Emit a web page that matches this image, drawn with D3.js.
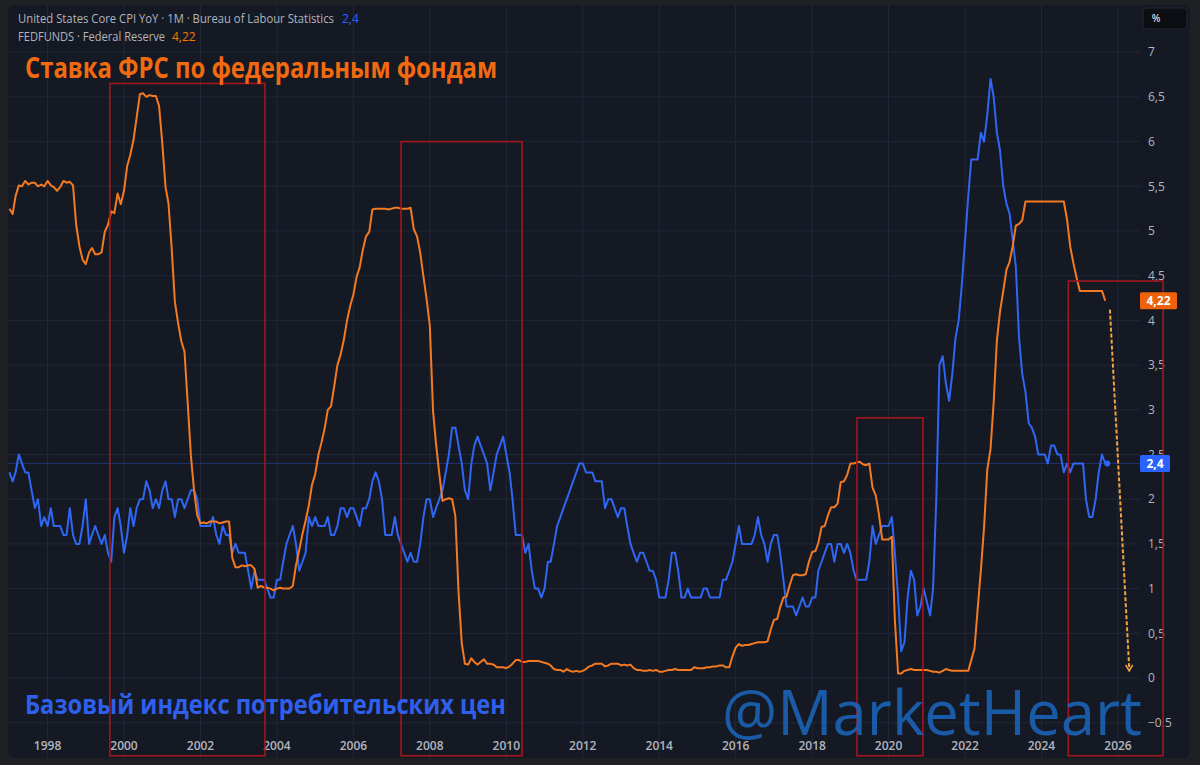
<!DOCTYPE html>
<html><head><meta charset="utf-8">
<script src="https://cdn.jsdelivr.net/npm/d3@7"></script>
<style>html,body{margin:0;padding:0;background:#1f2024;}svg{display:block}</style>
</head><body><svg id="c" width="1200" height="765"></svg>
<script>
// ---------------- DATA ----------------
const startMonth = "1997-01-01";
const fedFunds = [
5.25,5.19,5.39,5.51,5.50,5.56,5.52,5.54,5.54,5.50,5.52,5.50,
5.56,5.51,5.49,5.45,5.49,5.56,5.54,5.55,5.51,5.07,4.83,4.68,
4.63,4.76,4.81,4.74,4.74,4.76,4.99,5.07,5.22,5.20,5.42,5.30,
5.45,5.73,5.85,6.02,6.27,6.53,6.54,6.50,6.52,6.51,6.51,6.40,
5.98,5.49,5.31,4.80,4.21,3.97,3.77,3.65,3.07,2.49,2.09,1.82,
1.73,1.74,1.73,1.75,1.75,1.75,1.73,1.74,1.75,1.75,1.34,1.24,
1.24,1.26,1.25,1.26,1.26,1.22,1.01,1.03,1.01,1.01,1.00,0.98,
1.00,1.01,1.00,1.00,1.00,1.03,1.26,1.43,1.61,1.76,1.93,2.16,
2.28,2.50,2.63,2.79,3.00,3.04,3.26,3.50,3.62,3.78,4.00,4.16,
4.29,4.49,4.59,4.79,4.94,4.99,5.24,5.25,5.25,5.25,5.25,5.24,
5.25,5.26,5.26,5.25,5.25,5.25,5.26,5.02,4.94,4.76,4.49,4.24,
3.94,2.98,2.61,2.28,1.98,2.00,2.01,2.00,1.81,0.97,0.39,0.16,
0.15,0.22,0.18,0.15,0.18,0.21,0.16,0.16,0.15,0.12,0.12,0.12,
0.11,0.13,0.16,0.20,0.20,0.18,0.18,0.19,0.19,0.19,0.19,0.18,
0.17,0.16,0.14,0.10,0.09,0.09,0.07,0.10,0.08,0.07,0.08,0.07,
0.08,0.10,0.13,0.14,0.16,0.16,0.16,0.13,0.14,0.16,0.16,0.16,
0.14,0.15,0.14,0.15,0.11,0.09,0.09,0.08,0.08,0.09,0.08,0.09,
0.07,0.07,0.08,0.09,0.09,0.10,0.09,0.09,0.09,0.09,0.09,0.12,
0.11,0.11,0.11,0.12,0.12,0.13,0.13,0.14,0.14,0.12,0.12,0.24,
0.34,0.38,0.36,0.37,0.37,0.38,0.39,0.40,0.40,0.40,0.41,0.54,
0.65,0.66,0.79,0.90,0.91,1.04,1.15,1.16,1.15,1.15,1.16,1.30,
1.41,1.42,1.51,1.69,1.70,1.82,1.91,1.91,1.95,2.19,2.20,2.27,
2.40,2.40,2.41,2.42,2.39,2.38,2.40,2.13,2.04,1.83,1.55,1.55,
1.55,1.58,0.65,0.05,0.05,0.08,0.09,0.10,0.09,0.09,0.09,0.09,
0.09,0.08,0.07,0.07,0.06,0.08,0.10,0.09,0.08,0.08,0.08,0.08,
0.08,0.08,0.20,0.33,0.77,1.21,1.68,2.33,2.56,3.08,3.78,4.10,
4.33,4.57,4.65,4.83,5.06,5.08,5.12,5.33,5.33,5.33,5.33,5.33,
5.33,5.33,5.33,5.33,5.33,5.33,5.33,5.33,5.13,4.83,4.64,4.48,
4.33,4.33,4.33,4.33,4.33,4.33,4.33,4.33,4.22
];
const coreCpi = [
2.3,2.2,2.3,2.5,2.4,2.3,2.3,2.1,1.9,2.0,1.7,1.8,
1.7,1.9,1.7,1.7,1.7,1.6,1.6,1.9,1.6,1.5,1.5,1.7,
2.0,1.5,1.6,1.7,1.6,1.5,1.6,1.4,1.3,1.8,1.9,1.7,
1.4,1.6,1.9,1.7,1.9,2.0,2.0,2.2,2.1,1.9,2.0,1.9,
2.1,2.2,2.0,2.0,1.8,2.0,2.0,1.9,2.0,2.1,2.1,2.0,
1.7,1.7,1.7,1.7,1.8,1.6,1.5,1.7,1.6,1.6,1.4,1.5,
1.4,1.4,1.4,1.2,1.0,1.2,1.1,1.1,1.1,1.0,0.9,0.9,
1.1,1.1,1.3,1.5,1.6,1.7,1.5,1.2,1.3,1.4,1.8,1.7,
1.8,1.7,1.7,1.7,1.8,1.6,1.6,1.7,1.9,1.9,1.8,1.9,
1.9,1.8,1.7,1.9,1.9,2.0,2.2,2.3,2.2,2.0,1.6,1.6,
1.6,1.8,1.6,1.5,1.4,1.3,1.4,1.3,1.3,1.5,1.8,2.0,
2.0,1.8,1.9,2.0,2.1,2.3,2.5,2.8,2.8,2.6,2.4,2.1,
2.0,2.4,2.6,2.7,2.6,2.5,2.4,2.1,2.3,2.5,2.6,2.7,
2.5,2.3,2.0,1.6,1.6,1.6,1.4,1.5,1.2,1.0,1.0,0.9,
1.0,1.3,1.3,1.5,1.7,1.8,1.9,2.0,2.1,2.2,2.3,2.4,
2.4,2.3,2.3,2.3,2.2,2.2,2.2,1.9,2.0,2.0,1.9,1.8,
1.9,1.9,1.7,1.5,1.4,1.3,1.4,1.4,1.3,1.2,1.2,1.1,
0.9,0.9,0.9,1.1,1.4,1.4,1.2,0.9,0.9,1.0,0.9,0.9,
0.9,0.9,1.0,1.0,0.9,0.9,0.9,0.9,1.1,1.1,1.2,1.3,
1.5,1.7,1.5,1.5,1.5,1.5,1.6,1.8,1.6,1.5,1.3,1.5,
1.6,1.6,1.4,1.1,0.8,0.8,0.8,0.7,0.8,0.9,0.8,0.8,
0.9,0.9,1.2,1.3,1.4,1.5,1.5,1.3,1.5,1.5,1.4,1.5,
1.4,1.2,1.1,1.1,1.1,1.1,1.3,1.7,1.5,1.6,1.7,1.7,
1.7,1.8,1.4,0.9,0.3,0.4,0.9,1.2,1.1,0.7,0.8,1.0,
0.85,0.7,1.0,2.0,3.5,3.6,3.3,3.1,3.4,3.8,4.0,4.4,
4.9,5.4,5.8,5.8,5.8,6.1,6.0,6.3,6.7,6.5,6.1,5.9,
5.5,5.3,5.2,4.9,4.6,3.8,3.4,3.2,2.85,2.8,2.7,2.5,
2.5,2.5,2.4,2.6,2.6,2.5,2.5,2.3,2.4,2.3,2.4,2.4,
2.4,2.4,2.0,1.8,1.8,2.0,2.3,2.5,2.4
];
const xTickYears = [1998,2000,2002,2004,2006,2008,2010,2012,2014,2016,2018,2020,2022,2024,2026];
const yTickValues = [-0.5,0,0.5,1,1.5,2,2.5,3,3.5,4,4.5,5,5.5,6,6.5,7];
const yTickLabels = ["−0.5","0","0,5","1","1,5","2","2,5","3","3,5","4","4,5","5","5,5","6","6,5","7"];
const cpiLegend = "United States Core CPI YoY · 1M · Bureau of Labour Statistics";
const fedLegend = "FEDFUNDS · Federal Reserve";
const cpiLast = "2,4";
const fedLast = "4,22";
const titleText = "Ставка ФРС по федеральным фондам";
const subText = "Базовый индекс потребительских цен";
const watermark = "@MarketHeart";
// highlight boxes (date span, top value); bottom runs off the axis
const boxStart = ["1999-08-19","2007-04-01","2019-03-05","2024-09-13"];
const boxEnd   = ["2003-09-09","2010-05-31","2020-11-24","2027-03-08"];
const boxTop   = [6.65, 6.0, 2.91, 4.44];
const boxBottom = -0.87;
// forecast arrow
const arrowDates = ["2025-10-16","2026-04-18"];
const arrowValues = [4.12, 0.09];

// ---------------- DRAW ----------------
const svg = d3.select("#c");
const parse = d3.timeParse("%Y-%m-%d");
const t0 = parse(startMonth);
const W = 1200, H = 765;
const P = {l: 8, t: 5, r: 1140, b: 758, right: 1190};

const x = d3.scaleTime().domain([new Date(2000,0,1), new Date(2026,0,1)]).range([124, 1118]);
const y = d3.scaleLinear().domain([0, 7]).range([678, 52.2]);

const fedData = fedFunds.map((v,i)=>({d:d3.timeMonth.offset(t0,i), v}));
const cpiData = coreCpi.map((v,i)=>({d:d3.timeMonth.offset(t0,i), v}));

const colBlue = "#2f66f3", colOrange = "#f47a22";

svg.append("rect").attr("width",W).attr("height",H).attr("fill","#1f2024");
svg.append("rect").attr("x",P.l).attr("y",P.t).attr("width",P.right-P.l).attr("height",P.b-P.t)
  .attr("rx",6).attr("fill","#151924");

const defs = svg.append("defs");
defs.append("clipPath").attr("id","plot").append("rect")
  .attr("x",P.l).attr("y",P.t).attr("width",P.r-P.l).attr("height",P.b-P.t);

// grid
const grid = svg.append("g").attr("clip-path","url(#plot)");
grid.selectAll("line.h").data(yTickValues).join("line")
  .attr("x1",P.l).attr("x2",P.r).attr("y1",d=>y(d)).attr("y2",d=>y(d))
  .attr("stroke","#222736").attr("stroke-width",1);
grid.selectAll("line.v").data(xTickYears).join("line")
  .attr("y1",P.t).attr("y2",P.b).attr("x1",d=>x(new Date(d,0,1))).attr("x2",d=>x(new Date(d,0,1)))
  .attr("stroke","#222736").attr("stroke-width",1);

// price line for last CPI value
const lastCpi = cpiData[cpiData.length-1], lastFed = fedData[fedData.length-1];
grid.append("line").attr("x1",P.l).attr("x2",P.r).attr("y1",y(lastCpi.v)).attr("y2",y(lastCpi.v))
  .attr("stroke",colBlue).attr("stroke-opacity",0.35).attr("stroke-width",1);

// lines
const plot = svg.append("g").attr("clip-path","url(#plot)");
const line = d3.line().x(d=>x(d.d)).y(d=>y(d.v));
plot.append("path").datum(cpiData).attr("d",line).attr("fill","none")
  .attr("stroke",colBlue).attr("stroke-width",2).attr("stroke-linejoin","round");
plot.append("path").datum(fedData).attr("d",line).attr("fill","none")
  .attr("stroke",colOrange).attr("stroke-width",2).attr("stroke-linejoin","round");
plot.append("circle").attr("cx",x(lastCpi.d)+2).attr("cy",y(lastCpi.v)).attr("r",3).attr("fill",colBlue);

// forecast arrow
const ax0 = x(parse(arrowDates[0])), ay0 = y(arrowValues[0]);
const ax1 = x(parse(arrowDates[1])), ay1 = y(arrowValues[1]);
svg.append("line").attr("x1",ax0).attr("y1",ay0).attr("x2",ax1).attr("y2",ay1-2)
  .attr("stroke","#f3a440").attr("stroke-width",2).attr("stroke-dasharray","4,2");
svg.append("path").attr("d",`M${ax1-3.5},${ay1-5} L${ax1},${ay1+1} L${ax1+3.5},${ay1-5}`)
  .attr("fill","none").attr("stroke","#f3a440").attr("stroke-width",1.6);

// y axis labels
svg.append("g").selectAll("text").data(yTickValues).join("text")
  .attr("x",1148).attr("y",d=>y(d)).attr("dy","0.35em")
  .attr("font-family","'Open Sans', 'Noto Sans', sans-serif").attr("font-size",12)
  .attr("fill","#b2b5be").text((d,i)=>yTickLabels[i]);

// x axis labels
svg.append("g").selectAll("text").data(xTickYears).join("text")
  .attr("x",d=>x(new Date(d,0,1))).attr("y",750).attr("text-anchor","middle")
  .attr("font-family","'Open Sans', 'Noto Sans', sans-serif").attr("font-size",12).attr("font-weight",600)
  .attr("fill","#b2b5be").text(d=>d);

// red highlight boxes
svg.append("g").selectAll("rect").data(boxStart).join("rect")
  .attr("x",(d,i)=>x(parse(d)))
  .attr("y",(d,i)=>y(boxTop[i]))
  .attr("width",(d,i)=>x(parse(boxEnd[i]))-x(parse(d)))
  .attr("height",(d,i)=>y(boxBottom)-y(boxTop[i]))
  .attr("fill","none").attr("stroke","#a3161c").attr("stroke-width",1.6);

// badges
function badge(v, label, color, w){
  const g = svg.append("g");
  g.append("rect").attr("x",1140).attr("y",y(v)-8.5).attr("width",w).attr("height",17).attr("rx",1.5).attr("fill",color);
  g.append("text").attr("x",1140+w/2).attr("y",y(v)).attr("dy","0.36em").attr("text-anchor","middle")
    .attr("font-family","'Open Sans', 'Noto Sans', sans-serif").attr("font-size",12).attr("font-weight",700)
    .attr("fill","#ffffff").text(label);
}
badge(lastFed.v, fedLast, "#ef620c", 37);
badge(lastCpi.v, cpiLast, "#2962ff", 30);

// % box
svg.append("rect").attr("x",1143).attr("y",8).attr("width",44).attr("height",21).attr("rx",3)
  .attr("fill","#0c0e13").attr("stroke","#23262f");
svg.append("text").attr("x",1156).attr("y",18.5).attr("dy","0.35em").attr("text-anchor","middle")
  .attr("font-family","'Open Sans', sans-serif").attr("font-size",10).attr("font-weight",600)
  .attr("fill","#d1d4dc").text("%");

// legend
const lg1 = svg.append("text").attr("x",18).attr("y",23)
  .attr("font-family","'Open Sans', 'Noto Sans', sans-serif").attr("font-size",12).attr("fill","#b2b5be");
lg1.append("tspan").attr("textLength",316).attr("lengthAdjust","spacingAndGlyphs").text(cpiLegend);
svg.append("text").attr("x",342).attr("y",23)
  .attr("font-family","'Open Sans', 'Noto Sans', sans-serif").attr("font-size",12).attr("fill","#2962ff").text(cpiLast);
svg.append("text").attr("x",18).attr("y",41).attr("textLength",147).attr("lengthAdjust","spacingAndGlyphs")
  .attr("font-family","'Open Sans', 'Noto Sans', sans-serif").attr("font-size",12).attr("fill","#b2b5be").text(fedLegend);
svg.append("text").attr("x",172).attr("y",41)
  .attr("font-family","'Open Sans', 'Noto Sans', sans-serif").attr("font-size",12).attr("fill","#f57c00").text(fedLast);

// titles
svg.append("text").attr("x",25).attr("y",78).attr("textLength",472).attr("lengthAdjust","spacingAndGlyphs")
  .attr("font-family","'Open Sans', 'Noto Sans', sans-serif").attr("font-size",28).attr("font-weight",700)
  .attr("fill","#f26a10").text(titleText);
svg.append("text").attr("x",25).attr("y",714).attr("textLength",481).attr("lengthAdjust","spacingAndGlyphs")
  .attr("font-family","'Open Sans', 'Noto Sans', sans-serif").attr("font-size",27).attr("font-weight",700)
  .attr("fill","#2f60ec").text(subText);

// watermark
svg.append("text").attr("x",722).attr("y",735).attr("textLength",420).attr("lengthAdjust","spacingAndGlyphs")
  .attr("font-family","'Open Sans', 'Noto Sans', sans-serif").attr("font-size",63).attr("font-weight",400)
  .attr("fill","#1a64b8").attr("fill-opacity",0.88).text(watermark);
</script></body></html>
